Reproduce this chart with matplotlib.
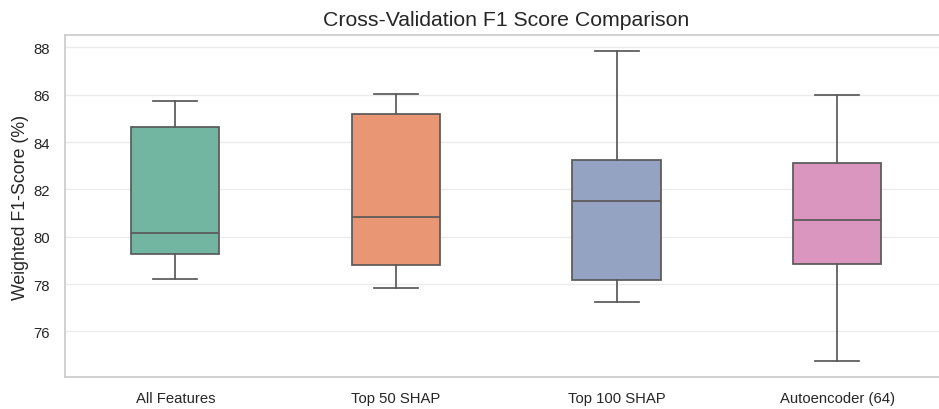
import colorsys
import matplotlib
matplotlib.use("Agg")
import matplotlib.pyplot as plt
import numpy as np

categories = ["All Features", "Top 50 SHAP", "Top 100 SHAP", "Autoencoder (64)"]
all_features = [78.22, 79.26, 80.14, 84.63, 85.75]
top50_shap = [77.85, 78.81, 80.84, 85.19, 86.02]
top100_shap = [77.24, 78.17, 81.52, 83.26, 87.87]
autoencoder64 = [74.73, 78.85, 80.70, 83.13, 85.98]
series = [all_features, top50_shap, top100_shap, autoencoder64]

base_colors = ["#66c2a5", "#fc8d62", "#8da0cb", "#e78ac3"]


def desaturate(hexc, prop=0.75):
    r, g, b = matplotlib.colors.to_rgb(hexc)
    h, l, s = colorsys.rgb_to_hls(r, g, b)
    return colorsys.hls_to_rgb(h, l, s * prop)


fills = [desaturate(c) for c in base_colors]
line_gray = "#595959"

plt.rcParams["font.family"] = ["Liberation Sans", "DejaVu Sans"]

fig = plt.figure(figsize=(9.39, 4.10), dpi=100)
ax = fig.add_axes([65 / 939, 32 / 410, 882.5 / 939, 342 / 410])

positions = np.arange(len(categories))
bp = ax.boxplot(
    series,
    positions=positions,
    widths=0.4,
    capwidths=0.2,
    patch_artist=True,
    whis=1.5,
    showfliers=True,
    boxprops=dict(edgecolor=line_gray, linewidth=1.25),
    whiskerprops=dict(color=line_gray, linewidth=1.25),
    capprops=dict(color=line_gray, linewidth=1.25),
    medianprops=dict(color=line_gray, linewidth=1.25),
    flierprops=dict(markeredgecolor=line_gray),
    zorder=3,
)
for patch, c in zip(bp["boxes"], fills):
    patch.set_facecolor(c)

ax.set_xlim(-0.5, len(categories) - 0.5)
ax.set_xticks(positions)
ax.set_xticklabels(categories)
ax.set_yticks([76, 78, 80, 82, 84, 86, 88])

ax.yaxis.grid(True, color="#ebebeb", linewidth=1.0, zorder=0)
ax.xaxis.grid(False)
ax.set_axisbelow(True)
for sp in ax.spines.values():
    sp.set_color("#cccccc")
    sp.set_linewidth(1.25)
ax.spines["right"].set_visible(False)

ax.tick_params(axis="both", length=0, labelsize=10.7, colors="#262626")
ax.tick_params(axis="x", pad=10)
ax.tick_params(axis="y", pad=11)

ax.set_ylabel("Weighted F1-Score (%)", fontsize=12.8, color="#262626")
ax.yaxis.set_label_coords(-0.041, 0.5)
ax.set_title("Cross-Validation F1 Score Comparison", fontsize=15.3,
             color="#262626", pad=7)

fig.savefig("out.png", dpi=100)
